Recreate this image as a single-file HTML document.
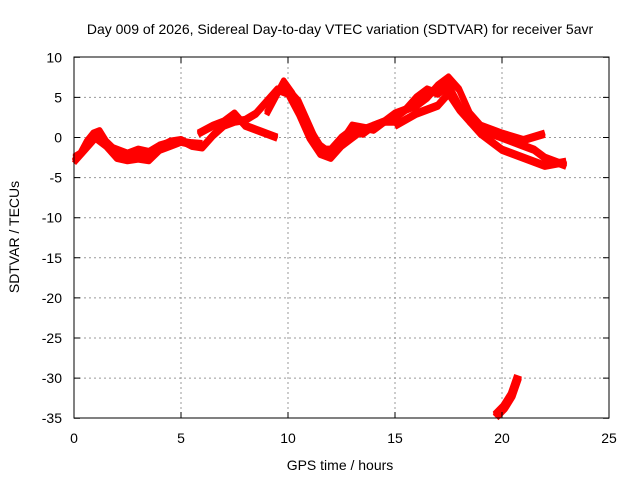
<!DOCTYPE html>
<html><head><meta charset="utf-8"><style>
body{margin:0;background:#fff}
svg{display:block;font-family:"Liberation Sans",sans-serif}
</style></head><body>
<svg id="chart" width="640" height="480" viewBox="0 0 640 480">
<rect width="640" height="480" fill="#fff"/>
<g id="grid"></g>
<g id="series"></g>
<rect x="74" y="57" width="535" height="361" fill="none" stroke="#000" stroke-width="1"/>
<g id="ticks" font-size="14"></g>
<text x="340" y="34" text-anchor="middle" font-size="14">Day 009 of 2026, Sidereal Day-to-day VTEC variation (SDTVAR) for receiver 5avr</text>
<text x="340" y="470" text-anchor="middle" font-size="14">GPS time / hours</text>
<text transform="translate(19,237) rotate(-90)" text-anchor="middle" font-size="14">SDTVAR / TECUs</text>
</svg>
<script>
const xTicks=[0,5,10,15,20,25];
const yTicks=[10,5,0,-5,-10,-15,-20,-25,-30,-35];
const s1T=[0,0.3,0.6,0.9,1.2,1.5,2,2.5,3,3.5,4,4.5,5,5.5,6,6.5,7,7.5,8,8.5,9,9.5,10,10.5,11,11.5,12,12.5,13,13.5,14,15,15.5,16,16.5,17,17.5,18,18.5,19,20,21,21.5,22,22.5,23];
const s1V=[-2.5,-2,-0.5,0.5,0.8,-0.5,-1.8,-2.2,-2,-2.3,-1.2,-0.5,-0.3,-1,-1.2,0.3,1.5,2,2.2,3,4.5,6,5.5,3,0,-2,-2.5,-1,0,1,1.5,2.5,3.5,5,6,5.5,6.5,4,2,1,0,-1,-1.5,-2.5,-3,-3.5];
const s2T=[0,0.5,1,1.5,2,2.5,3,3.5,4,4.5,5,5.5,6];
const s2V=[-3,-1.5,0,-1,-2.5,-2.8,-2.6,-2.8,-1.5,-1,-0.5,-0.7,-0.8];
const s3T=[5.8,6.5,7,7.5,8,8.5,9,9.5];
const s3V=[0.5,1.5,2,3,1.5,1,0.5,0];
const s4T=[9,9.5,9.8,10.2,10.8,11.5,12,12.5,13,14,15,16,16.5,17,17.5,18,18.5,19,20,21,22];
const s4V=[3,5.5,7,5.5,2,-1,-2,-0.5,1.5,1,3,4,5,6.5,7.5,6,3,1.5,0.5,-0.3,0.5];
const s5T=[15,16,17,17.5,18,19,20,21,22,23];
const s5V=[1.5,3,4,5.5,3.5,0.5,-1.5,-2.5,-3.5,-3];
const s6T=[19.7,20.1,20.45,20.75];
const s6V=[-34.7,-33.6,-32.1,-29.8];
const s7T=[1.5,2,2.5,3,3.5,4,4.5,5,5.5];
const s7V=[-1,-1.5,-2,-1.5,-1.8,-1,-0.6,-0.5,-0.8];
const s8T=[10,10.5,11,11.5,12,12.5,13,13.5,14,14.5,15];
const s8V=[6,4.5,1.5,-1.5,-1.5,0,1,0.5,1.5,2,2];
const X=t=>74+t*21.4, Y=v=>137.5-v*8.02;
const NS='http://www.w3.org/2000/svg';
const grid=document.getElementById('grid'), ticks=document.getElementById('ticks'), ser=document.getElementById('series');
xTicks.forEach(t=>{
  if(t>0&&t<25){const l=document.createElementNS(NS,'line');
  
  
  l.setAttribute('x1',X(t));l.setAttribute('x2',X(t));l.setAttribute('y1',57);l.setAttribute('y2',418);
  l.setAttribute('stroke','#999');l.setAttribute('stroke-dasharray','2,3');grid.appendChild(l);}
  const k=document.createElementNS(NS,'path');
  
  
  k.setAttribute('d',`M${X(t)},418v-6M${X(t)},57v6`);k.setAttribute('stroke','#000');ticks.appendChild(k);
  const tx=document.createElementNS(NS,'text');
  
  
  tx.setAttribute('x',X(t));tx.setAttribute('y',443);tx.setAttribute('text-anchor','middle');tx.textContent=t;ticks.appendChild(tx);
});
yTicks.forEach(v=>{
  if(v<10&&v>-35){const l=document.createElementNS(NS,'line');
  
  
  l.setAttribute('x1',74);l.setAttribute('x2',609);l.setAttribute('y1',Y(v));l.setAttribute('y2',Y(v));
  l.setAttribute('stroke','#999');l.setAttribute('stroke-dasharray','2,3');grid.appendChild(l);}
  const k=document.createElementNS(NS,'path');
  
  
  k.setAttribute('d',`M74,${Y(v)}h6M609,${Y(v)}h-6`);k.setAttribute('stroke','#000');ticks.appendChild(k);
  const tx=document.createElementNS(NS,'text');
  
  
  tx.setAttribute('x',62);tx.setAttribute('y',Y(v)+5);tx.setAttribute('text-anchor','end');tx.textContent=v;ticks.appendChild(tx);
});
[[s1T,s1V],[s2T,s2V],[s3T,s3V],[s4T,s4V],[s5T,s5V],[s6T,s6V],[s7T,s7V],[s8T,s8V]].forEach(([T,V],i)=>{
  [-1.2,0,1.6].forEach(off=>{
    const p=document.createElementNS(NS,'polyline');
    
    
    p.setAttribute('points',T.map((t,j)=>X(t)+','+(Y(V[j])+off)).join(' '));
    p.setAttribute('fill','none');p.setAttribute('stroke','#f00');p.setAttribute('stroke-width',i==5?8:5.5);
    p.setAttribute('stroke-linejoin','round');ser.appendChild(p);
  });
});
</script>
</body></html>
